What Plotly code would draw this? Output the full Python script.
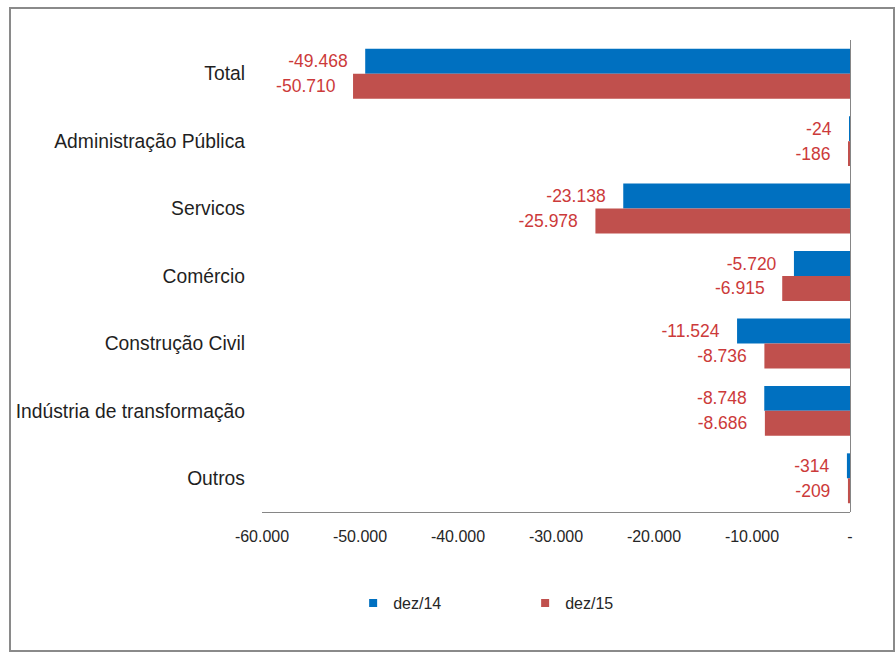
import plotly.graph_objects as go

categories = ["Total", "Administração Pública", "Servicos", "Comércio",
              "Construção Civil", "Indústria de transformação", "Outros"]
dez14 = [-49468, -24, -23138, -5720, -11524, -8748, -314]
dez15 = [-50710, -186, -25978, -6915, -8736, -8686, -209]
series_names = ["dez/14", "dez/15"]
tick_vals = [-60000, -50000, -40000, -30000, -20000, -10000, 0]
tick_text = ["-60.000", "-50.000", "-40.000", "-30.000", "-20.000", "-10.000", "-"]

BLUE = "#0070C0"
RED = "#C0504D"
LABEL = "#CC3A3A"
FONT = "Liberation Sans, Arial, sans-serif"

fig = go.Figure()
for name, vals, col in [(series_names[0], dez14, BLUE), (series_names[1], dez15, RED)]:
    fig.add_trace(go.Bar(
        y=categories, x=vals, orientation="h", name=name,
        marker=dict(color=col, line=dict(width=0)),
        texttemplate="%{x:,.0f}\u00a0\u00a0\u00a0", textposition="outside",
        textfont=dict(color=LABEL, size=17.5, family=FONT),
        cliponaxis=False, showlegend=False,
    ))
    fig.add_trace(go.Scatter(
        x=[None], y=[None], mode="markers", name=name,
        marker=dict(symbol="square", size=8, color=col),
    ))

fig.update_layout(
    width=896, height=654,
    margin=dict(l=262, r=46, t=40, b=142),
    paper_bgcolor="white", plot_bgcolor="white",
    separators=",.",
    barmode="group", bargap=0.26, bargroupgap=0,
    font=dict(family=FONT, size=17, color="#262626"),
    xaxis=dict(range=[-60000, 0], tickvals=tick_vals, ticktext=tick_text,
               showgrid=False, zeroline=True, zerolinecolor="#868686", zerolinewidth=1,
               showline=True, linecolor="#868686", linewidth=1,
               ticks="", ticklabelstandoff=10, automargin=False,
               tickfont=dict(size=16, color="#262626", family=FONT)),
    yaxis=dict(autorange="reversed", showgrid=False, zeroline=False, showline=False,
               ticks="", ticklabelstandoff=16, automargin=False,
               tickfont=dict(size=19.3, color="#1f1f1f", family=FONT)),
    legend=dict(orientation="h", x=0.155, xanchor="left", y=-0.193, yanchor="middle",
                entrywidth=127, entrywidthmode="pixels", itemwidth=30,
                font=dict(size=16, color="#262626", family=FONT)),
    shapes=[dict(type="rect", xref="paper", yref="paper",
                 x0=(10 - 262) / 588, x1=(894 - 262) / 588,
                 y0=(512 - 651) / 472, y1=(512 - 8) / 472,
                 line=dict(color="#8a8a8a", width=2), fillcolor="rgba(0,0,0,0)", layer="below")],
)

fig.write_html("out.html")
